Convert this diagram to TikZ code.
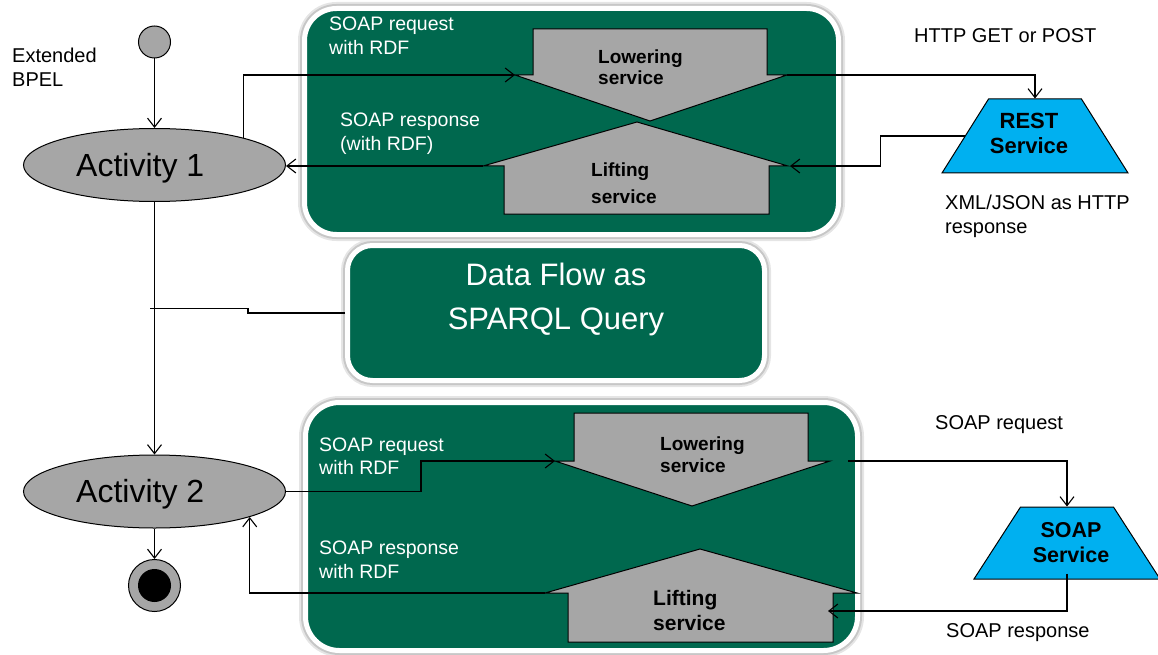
\documentclass[tikz,border=0pt]{standalone}
\usepackage{fontspec}
\setmainfont{Liberation Sans}
\usetikzlibrary{arrows.meta,shapes.geometric}

\definecolor{boxgreen}{RGB}{0,104,78}
\definecolor{svcblue}{RGB}{0,176,240}
\definecolor{shapegray}{RGB}{166,166,166}

\tikzset{
  gbox/.style={rectangle, fill=boxgreen, draw=white, line width=5pt,
    preaction={draw=black!10, line width=13pt},
    preaction={draw=black!22, line width=9pt},
    inner sep=0pt},
  activity/.style={ellipse, fill=shapegray, draw=black, line width=1pt,
    minimum width=262pt, minimum height=73pt, inner sep=0pt},
  service/.style={trapezium, fill=svcblue, draw=black, line width=1pt,
    trapezium stretches=true, inner sep=2pt},
  conv/.style={fill=shapegray, draw=black, line width=1pt},
  conn/.style={draw=black, line width=1.1pt},
  arr/.style={conn, -{Straight Barb[length=9pt,width=14pt,line width=1.1pt]}},
  lbl/.style={font=\fontsize{20}{24}\selectfont, inner sep=0pt},
  wlbl/.style={font=\fontsize{19.5}{24}\selectfont, text=white, inner sep=0pt},
  blbl/.style={font=\fontsize{19}{23}\selectfont\bfseries, inner sep=0pt},
  biglbl/.style={font=\fontsize{32}{38}\selectfont, inner sep=0pt},
}

\begin{document}
\begin{tikzpicture}[x=1pt,y=-1pt]
\useasboundingbox (0,0) rectangle (1158,655);

% green panels
\node[gbox, minimum width=534pt, minimum height=226pt, rounded corners=32pt] (rdfup) at (571.5,121.5) {};
\node[gbox, minimum width=417pt, minimum height=135pt, rounded corners=25pt] (data) at (556,313) {};
\node[gbox, minimum width=552pt, minimum height=248pt, rounded corners=34pt] (rdfdown) at (581.5,526.5) {};

% lowering / lifting blocks, upper panel
\path[conv] (533,29) -- (767,29) -- (767,75) -- (787,75) -- (650,121) -- (515,75) -- (533,75) -- cycle;
\path[conv] (483,166) -- (637,122) -- (788,166) -- (769,166) -- (769,214) -- (504,214) -- (504,166) -- cycle;
\coordinate (low1in) at (515,75);
\coordinate (low1out) at (787,75);
\coordinate (lift1in) at (790,166);
\coordinate (lift1out) at (483,166);

% lowering / lifting blocks, lower panel
\path[conv] (574,413) -- (808,413) -- (808,461) -- (830,461) -- (692,506) -- (555,461) -- (574,461) -- cycle;
\path[conv] (545,593) -- (700,549) -- (857,593) -- (833,593) -- (833,642) -- (568,642) -- (568,593) -- cycle;
\coordinate (low2in) at (555,461);
\coordinate (low2out) at (848,461);
\coordinate (lift2in) at (828,611);
\coordinate (lift2out) at (545,593);

% activity flow
\node[circle, fill=shapegray, draw=black, line width=1pt, minimum size=32pt, inner sep=0pt] (start) at (154.5,42) {};
\node[activity] (act1) at (154.5,165) {};
\node[activity] (act2) at (154.5,491.5) {};
\node[circle, fill=shapegray, draw=black, line width=1pt, minimum size=52pt, inner sep=0pt] (stop) at (154.5,585.5) {};
\node[circle, fill=black, minimum size=33pt, inner sep=0pt] (stopdot) at (stop.center) {};

% services
\node[service, trapezium angle=63.4, minimum width=186pt, minimum height=74pt] (rest) at (1035,136) {};
\node[service, trapezium angle=63.4, minimum width=186pt, minimum height=72pt] (soap) at (1067,543) {};

% connectors
\draw[arr] (start) -- (act1);
\draw[arr] (act1) -- (act2);
\draw[arr] (act2) -- (stop);
\draw[arr] (act1.17) |- (low1in);
\draw[arr] (low1out) -| (rest.north);
\draw[arr] (rest.west) -- ++(-84,0) |- (lift1in);
\draw[arr] (lift1out) -- (lift1out -| act1.east);
\draw[conn] (data.west) -- (248,313) -- (248,308.5) -- (150,308.5);
\draw[arr] (act2.east) -- (421,491.5) |- (low2in);
\draw[arr] (low2out) -| (soap.north);
\draw[arr] ([yshift=6pt]soap.south) |- (lift2in);
\draw[arr] (lift2out) -| (act2.-15.5);

% labels
\node[lbl, anchor=base west] (ext1) at (12,63) {Extended};
\node[lbl, anchor=base west] (ext2) at (12,87) {BPEL};
\node[biglbl, anchor=base west] (a1txt) at (76,176) {Activity 1};
\node[biglbl, anchor=base west] (a2txt) at (76,502) {Activity 2};

\node[wlbl, anchor=base west] (rq1a) at (329,31) {SOAP request};
\node[wlbl, anchor=base west] (rq1b) at (329,55) {with RDF};
\node[wlbl, anchor=base west] (rs1a) at (340,127) {SOAP response};
\node[wlbl, anchor=base west] (rs1b) at (340,151) {(with RDF)};
\node[blbl, anchor=base west] (lw1a) at (598,64) {Lowering};
\node[blbl, anchor=base west] (lw1b) at (598,85) {service};
\node[blbl, anchor=base west] (lf1a) at (591,177) {Lifting};
\node[blbl, anchor=base west] (lf1b) at (591,203) {service};

\node[lbl, anchor=base west] (http) at (914,43) {HTTP GET or POST};
\node[lbl, anchor=base west] (xml1) at (945,209) {XML/JSON as HTTP};
\node[lbl, anchor=base west] (xml2) at (945,233) {response};
\node[font=\fontsize{22}{26}\selectfont\bfseries, inner sep=0pt, anchor=base] (restA) at (1029,129) {REST};
\node[font=\fontsize{22}{26}\selectfont\bfseries, inner sep=0pt, anchor=base] (restB) at (1029,154) {Service};

\node[font=\fontsize{31}{38}\selectfont, text=white, inner sep=0pt, anchor=base] (df1) at (556,285) {Data Flow as};
\node[font=\fontsize{31}{38}\selectfont, text=white, inner sep=0pt, anchor=base] (df2) at (556,329) {SPARQL Query};

\node[wlbl, anchor=base west] (rq2a) at (319,451) {SOAP request};
\node[wlbl, anchor=base west] (rq2b) at (319,474) {with RDF};
\node[wlbl, anchor=base west] (rs2a) at (319,554) {SOAP response};
\node[wlbl, anchor=base west] (rs2b) at (319,578) {with RDF};
\node[blbl, anchor=base west] (lw2a) at (660,450) {Lowering};
\node[blbl, anchor=base west] (lw2b) at (660,472) {service};
\node[blbl, anchor=base west, font=\fontsize{21}{25}\selectfont\bfseries] (lf2a) at (653,605) {Lifting};
\node[blbl, anchor=base west, font=\fontsize{21}{25}\selectfont\bfseries] (lf2b) at (653,630) {service};

\node[lbl, anchor=base west] (sreq) at (935,429) {SOAP request};
\node[lbl, anchor=base west] (sresp) at (946,637) {SOAP response};
\node[font=\fontsize{21.5}{26}\selectfont\bfseries, inner sep=0pt, anchor=base] (soapA) at (1071,537) {SOAP};
\node[font=\fontsize{21.5}{26}\selectfont\bfseries, inner sep=0pt, anchor=base] (soapB) at (1071,562) {Service};
\end{tikzpicture}
\end{document}
